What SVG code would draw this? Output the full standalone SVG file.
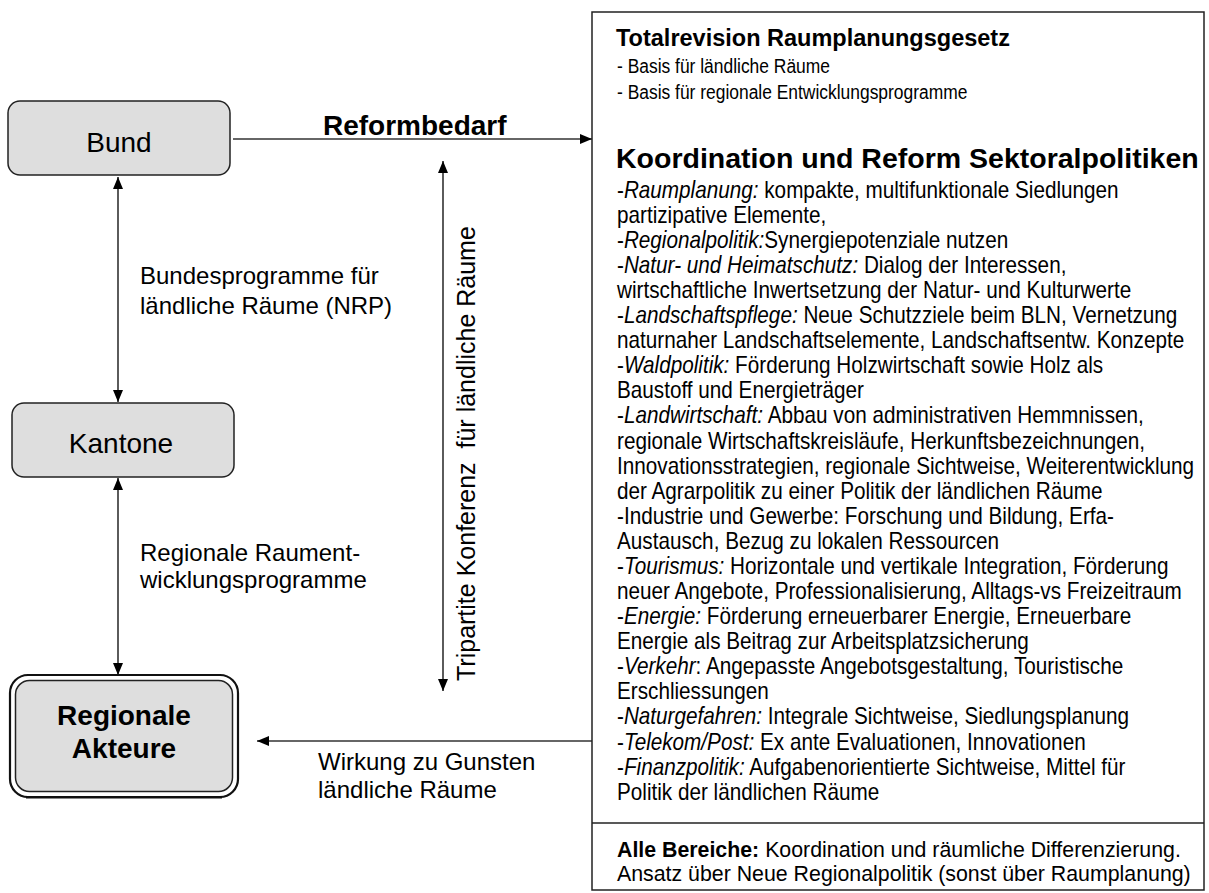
<svg xmlns="http://www.w3.org/2000/svg" width="1209" height="893" viewBox="0 0 1209 893">
  <style>
    text { font-family: "Liberation Sans", Arial, sans-serif; fill: #000; }
    .node { fill: #dedede; stroke: #222; stroke-width: 1.5; }
    .nlabel { font-size: 28px; text-anchor: middle; }
    .bold { font-weight: bold; }
    .lbl { font-size: 24px; }
    .head1 { font-size: 23.5px; font-weight: bold; }
    .head2 { font-size: 28.5px; font-weight: bold; }
    .small { font-size: 21px; }
    .body { font-size: 23px; }
    .foot { font-size: 22px; }
    .it { font-style: italic; }
    .conn { stroke: #333; stroke-width: 1.6; fill: none; }
    .frame { fill: #fff; stroke: #222; stroke-width: 1.5; }
  </style>
  <defs>
    <marker id="ah" viewBox="0 0 12 10" refX="12" refY="5" markerWidth="12" markerHeight="10" orient="auto-start-reverse" markerUnits="userSpaceOnUse">
      <path d="M0,0 L12,5 L0,10 z" fill="#000"/>
    </marker>
  </defs>

  <rect width="1209" height="893" fill="#fff"/>

  <!-- connectors and their labels -->
  <g id="connectors">
    <line class="conn" x1="233" y1="139" x2="592" y2="139" marker-end="url(#ah)"/>
    <line class="conn" x1="118" y1="177" x2="118" y2="402" marker-start="url(#ah)" marker-end="url(#ah)"/>
    <line class="conn" x1="118" y1="478" x2="118" y2="675" marker-start="url(#ah)" marker-end="url(#ah)"/>
    <line class="conn" x1="443" y1="161" x2="443" y2="691" marker-start="url(#ah)" marker-end="url(#ah)"/>
    <line class="conn" x1="592" y1="741" x2="257" y2="741" marker-end="url(#ah)"/>
    <text class="bold" x="323" y="135" style="font-size:28px">Reformbedarf</text>
    <text class="lbl" x="140" y="284">Bundesprogramme für</text>
    <text class="lbl" x="140" y="314">ländliche Räume (NRP)</text>
    <text class="lbl" x="140" y="561">Regionale Raument-</text>
    <text class="lbl" x="140" y="588">wicklungsprogramme</text>
    <text class="lbl" x="318" y="770">Wirkung zu Gunsten</text>
    <text class="lbl" x="318" y="798">ländliche Räume</text>
    <text class="lbl" style="font-size:25px" transform="translate(475,681) rotate(-90)" xml:space="preserve">Tripartite Konferenz  für ländliche Räume</text>
  </g>

  <!-- nodes -->
  <g id="bund">
    <rect class="node" x="8" y="101" width="222" height="74" rx="12"/>
    <text class="nlabel" x="119" y="152">Bund</text>
  </g>
  <g id="kantone">
    <rect class="node" x="12" y="403" width="222" height="74" rx="12"/>
    <text class="nlabel" x="121" y="453">Kantone</text>
  </g>
  <g id="regionale-akteure">
    <rect x="10" y="675" width="228" height="122" rx="18" fill="#fff" stroke="#111" stroke-width="2.2"/>
    <path d="M26,797.5 H222" stroke="#111" stroke-width="2" fill="none"/>
    <rect class="node" x="15.5" y="680.5" width="217" height="111" rx="14"/>
    <text class="nlabel bold" x="124" y="725">Regionale</text>
    <text class="nlabel bold" x="124" y="758">Akteure</text>
  </g>

  <g id="massnahmen">
    <rect class="frame" x="592" y="12" width="612" height="878"/>
    <line x1="592" y1="823" x2="1204" y2="823" stroke="#222" stroke-width="1.5"/>
    <text class="head1" x="616" y="46">Totalrevision Raumplanungsgesetz</text>
    <!-- narrow-set running text -->
    <g transform="translate(617,0) scale(0.83,1)">
      <text class="small" x="0" y="73">- Basis für ländliche Räume</text>
      <text class="small" x="0" y="99">- Basis für regionale Entwicklungsprogramme</text>
    </g>
    <text class="head2" x="616" y="168">Koordination und Reform Sektoralpolitiken</text>
    <g transform="translate(617,0) scale(0.9,1)">
      <text class="body">
        <tspan x="0" y="198">-<tspan class="it">Raumplanung:</tspan> kompakte, multifunktionale Siedlungen</tspan>
        <tspan x="0" y="223">partizipative Elemente,</tspan>
        <tspan x="0" y="248">-<tspan class="it">Regionalpolitik:</tspan>Synergiepotenziale nutzen</tspan>
        <tspan x="0" y="273">-<tspan class="it">Natur- und Heimatschutz:</tspan> Dialog der Interessen,</tspan>
        <tspan x="0" y="298">wirtschaftliche Inwertsetzung der Natur- und Kulturwerte</tspan>
        <tspan x="0" y="323">-<tspan class="it">Landschaftspflege:</tspan> Neue Schutzziele beim BLN, Vernetzung</tspan>
        <tspan x="0" y="348">naturnaher Landschaftselemente, Landschaftsentw. Konzepte</tspan>
        <tspan x="0" y="373">-<tspan class="it">Waldpolitik:</tspan> Förderung Holzwirtschaft sowie Holz als</tspan>
        <tspan x="0" y="398">Baustoff und Energieträger</tspan>
        <tspan x="0" y="423">-<tspan class="it">Landwirtschaft:</tspan> Abbau von administrativen Hemmnissen,</tspan>
        <tspan x="0" y="449">regionale Wirtschaftskreisläufe, Herkunftsbezeichnungen,</tspan>
        <tspan x="0" y="474">Innovationsstrategien, regionale Sichtweise, Weiterentwicklung</tspan>
        <tspan x="0" y="499">der Agrarpolitik zu einer Politik der ländlichen Räume</tspan>
        <tspan x="0" y="524">-Industrie und Gewerbe: Forschung und Bildung, Erfa-</tspan>
        <tspan x="0" y="549">Austausch, Bezug zu lokalen Ressourcen</tspan>
        <tspan x="0" y="574">-<tspan class="it">Tourismus:</tspan> Horizontale und vertikale Integration, Förderung</tspan>
        <tspan x="0" y="599">neuer Angebote, Professionalisierung, Alltags-vs Freizeitraum</tspan>
        <tspan x="0" y="624">-<tspan class="it">Energie:</tspan> Förderung erneuerbarer Energie, Erneuerbare</tspan>
        <tspan x="0" y="649">Energie als Beitrag zur Arbeitsplatzsicherung</tspan>
        <tspan x="0" y="674">-<tspan class="it">Verkehr</tspan>: Angepasste Angebotsgestaltung, Touristische</tspan>
        <tspan x="0" y="699">Erschliessungen</tspan>
        <tspan x="0" y="724">-<tspan class="it">Naturgefahren:</tspan> Integrale Sichtweise, Siedlungsplanung</tspan>
        <tspan x="0" y="750">-<tspan class="it">Telekom/Post:</tspan> Ex ante Evaluationen, Innovationen</tspan>
        <tspan x="0" y="775">-<tspan class="it">Finanzpolitik:</tspan> Aufgabenorientierte Sichtweise, Mittel für</tspan>
        <tspan x="0" y="800">Politik der ländlichen Räume</tspan>
      </text>
    </g>
    <g transform="translate(617,0) scale(0.97,1)">
      <text class="foot" x="0" y="857"><tspan class="bold">Alle Bereiche:</tspan> Koordination und räumliche Differenzierung.</text>
      <text class="foot" x="0" y="881">Ansatz über Neue Regionalpolitik (sonst über Raumplanung)</text>
    </g>
  </g>
</svg>
